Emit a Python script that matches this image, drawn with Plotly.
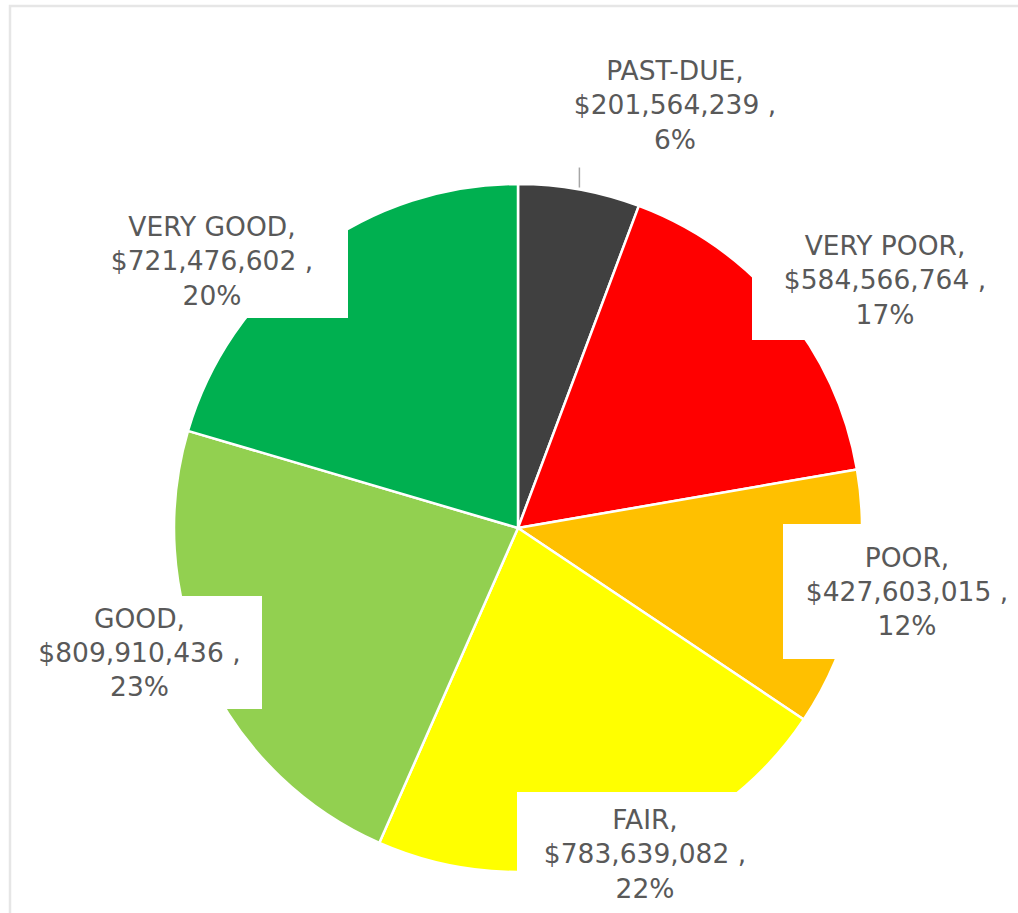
import math
import plotly.graph_objects as go

# ---- data ----
categories = ["PAST-DUE", "VERY POOR", "POOR", "FAIR", "GOOD", "VERY GOOD"]
values = [201564239, 584566764, 427603015, 783639082, 809910436, 721476602]
colors = ["#404040", "#FF0000", "#FFC000", "#FFFF00", "#92D050", "#00B050"]

W, H = 1018, 913
CX, CY, R = 518, 528, 344  # pie centre / radius in pixels

def px(x):
    return x / W

def py(y):
    return 1 - y / H

fig = go.Figure()
fig.add_trace(go.Pie(
    labels=categories,
    values=values,
    marker=dict(colors=colors, line=dict(color="white", width=2.5)),
    sort=False,
    direction="clockwise",
    rotation=0,
    textinfo="none",
    hoverinfo="label+value+percent",
    showlegend=False,
    domain=dict(x=[px(CX - R), px(CX + R)], y=[py(CY + R), py(CY - R)]),
))

total = sum(values)
# label box placement: (centre x, centre y, width, height) in pixels
label_boxes = {
    "PAST-DUE": (675, 105, 250, 112),
    "VERY POOR": (885, 280, 266, 120),
    "POOR": (907, 591, 248, 135),
    "FAIR": (645, 854, 256, 124),
    "GOOD": (139.5, 652, 245, 113),
    "VERY GOOD": (212, 261, 272, 114),
}

for cat, val in zip(categories, values):
    pct = round(val / total * 100)
    text = f"{cat},<br>${val:,} ,<br>{pct}%"
    bx, by, bw, bh = label_boxes[cat]
    fig.add_annotation(
        x=px(bx), y=py(by), xref="paper", yref="paper",
        xanchor="center", yanchor="middle",
        text=text, showarrow=False,
        width=bw, height=bh, align="center", valign="middle",
        bgcolor="white", borderpad=0, borderwidth=0,
        font=dict(family="Verdana, DejaVu Sans, sans-serif", size=26.5, color="#595959"),
    )

# leader line for the first slice: from mid-arc point upward
mid_frac = values[0] / total / 2
ang = 2 * math.pi * mid_frac
lx = CX + R * math.sin(ang)
ly = CY - R * math.cos(ang)
fig.add_shape(type="line", xref="paper", yref="paper",
              x0=px(lx), x1=px(lx), y0=py(ly - 2), y1=py(ly - 22),
              line=dict(color="#A6A6A6", width=1.5))

# chart-area border
fig.add_shape(type="rect", xref="paper", yref="paper",
              x0=px(10), x1=px(W + 20), y0=py(6), y1=py(H + 20),
              line=dict(color="#E6E6E6", width=2.5), layer="below")

fig.update_layout(
    width=W, height=H,
    margin=dict(l=0, r=0, t=0, b=0),
    paper_bgcolor="white", plot_bgcolor="white",
)

fig.write_html("out.html")
